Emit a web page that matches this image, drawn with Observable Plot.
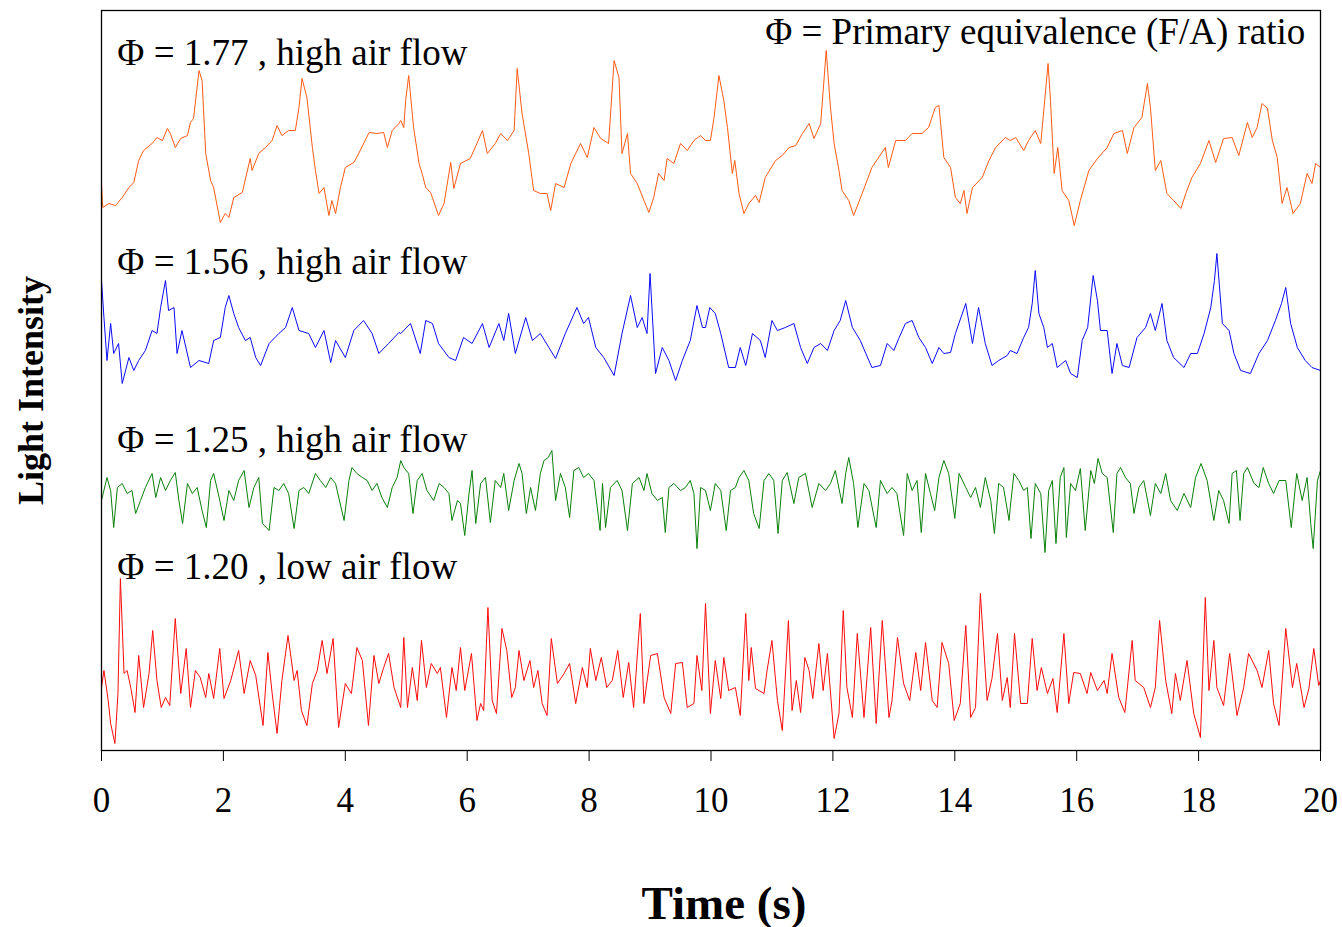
<!DOCTYPE html>
<html>
<head>
<meta charset="utf-8">
<script src="https://cdn.jsdelivr.net/npm/d3@7"></script>
<script src="https://cdn.jsdelivr.net/npm/@observablehq/plot@0.6"></script>
<style>
  html, body { margin: 0; padding: 0; background: #fff; }
</style>
</head>
<body>
<div id="chart"></div>
<script>
// Time (s), light intensity (arbitrary units)
const phi177 = [[0,567],[0.02,543],[0.12,547],[0.23,545],[0.34,553],[0.45,563],[0.53,568],[0.61,590],[0.69,600],[0.83,607],[0.91,613],[1.00,610],[1.08,622],[1.13,617],[1.21,603],[1.30,612],[1.41,615],[1.46,628],[1.51,632],[1.60,680],[1.65,670],[1.71,597],[1.79,570],[1.84,563],[1.95,528],[2.03,537],[2.09,533],[2.17,553],[2.31,558],[2.44,592],[2.47,580],[2.58,597],[2.69,603],[2.80,610],[2.88,625],[2.96,615],[3.07,620],[3.18,620],[3.24,643],[3.29,672],[3.37,653],[3.46,603],[3.51,580],[3.57,557],[3.65,563],[3.73,535],[3.78,550],[3.84,537],[3.92,563],[4.00,583],[4.14,588],[4.22,597],[4.39,618],[4.52,617],[4.63,618],[4.69,603],[4.77,620],[4.88,627],
[4.91,630],[4.96,623],[4.99,650],[5.04,675],[5.12,623],[5.21,587],[5.26,577],[5.32,563],[5.40,558],[5.53,535],[5.62,547],[5.73,588],[5.78,562],[5.89,587],[6.05,592],[6.16,607],[6.25,620],[6.33,597],[6.46,607],[6.55,617],[6.66,610],[6.77,620],[6.82,682],[6.90,637],[7.01,597],[7.09,560],[7.20,557],[7.31,557],[7.37,540],[7.45,567],[7.59,563],[7.70,587],[7.86,607],[7.97,593],[8.08,623],[8.19,612],[8.32,607],[8.41,690],[8.49,673],[8.54,597],[8.63,617],[8.68,577],[8.79,567],[8.90,550],[8.98,538],[9.06,553],[9.14,577],[9.23,570],[9.28,592],[9.39,587],[9.50,607],[9.61,600],[9.72,610],[9.83,615],
[9.91,610],[9.99,610],[10.05,633],[10.13,675],[10.21,650],[10.27,623],[10.35,577],[10.39,590],[10.46,557],[10.54,537],[10.62,547],[10.73,555],[10.79,548],[10.89,573],[11.06,590],[11.17,595],[11.28,603],[11.39,605],[11.50,617],[11.61,627],[11.69,612],[11.80,627],[11.89,700],[11.96,643],[12.02,607],[12.10,580],[12.15,560],[12.26,550],[12.34,535],[12.48,557],[12.64,583],[12.86,603],[12.91,583],[13.03,610],[13.19,610],[13.30,617],[13.46,617],[13.57,623],[13.68,643],[13.74,645],[13.82,593],[13.93,583],[14.01,553],[14.09,547],[14.15,560],[14.20,537],[14.29,563],[14.45,573],[14.56,590],[14.67,603],[14.83,613],
[14.91,610],[15.00,613],[15.13,600],[15.21,610],[15.32,620],[15.41,607],[15.46,640],[15.53,687],[15.57,650],[15.63,577],[15.69,603],[15.76,560],[15.87,550],[15.96,525],[16.06,550],[16.20,580],[16.34,592],[16.50,603],[16.61,617],[16.75,620],[16.83,597],[16.94,623],[17.07,633],[17.16,667],[17.21,643],[17.29,580],[17.38,590],[17.48,557],[17.59,550],[17.71,542],[17.79,557],[17.89,573],[18.03,587],[18.17,610],[18.28,588],[18.41,612],[18.55,613],[18.66,595],[18.80,628],[18.88,613],[18.96,623],[19.04,647],[19.13,642],[19.21,610],[19.29,593],[19.37,547],[19.45,563],[19.55,537],[19.67,547],[19.78,577],[19.86,567],[19.92,587],[20.00,583]];

const phi156 = [[0,470],[0.04,433],[0.09,390],[0.15,427],[0.20,397],[0.28,407],[0.34,367],[0.45,393],[0.53,380],[0.61,390],[0.72,400],[0.83,420],[0.91,417],[0.97,443],[1.05,470],[1.10,440],[1.19,443],[1.24,397],[1.32,420],[1.46,383],[1.60,390],[1.76,387],[1.84,410],[1.95,413],[2.03,443],[2.09,455],[2.17,437],[2.25,423],[2.36,410],[2.44,413],[2.53,393],[2.61,385],[2.75,407],[2.91,417],[3.02,423],[3.13,443],[3.24,420],[3.40,417],[3.51,403],[3.65,420],[3.76,388],[3.84,410],[4.00,393],[4.14,420],[4.30,430],[4.44,417],[4.55,397],[4.71,407],[4.88,418],
[4.91,417],[5.07,427],[5.23,397],[5.32,430],[5.43,427],[5.53,407],[5.70,393],[5.81,390],[5.94,413],[6.08,407],[6.25,427],[6.36,403],[6.52,427],[6.60,410],[6.68,437],[6.79,397],[6.96,433],[7.07,410],[7.20,417],[7.34,403],[7.45,392],[7.61,417],[7.80,443],[7.91,427],[7.99,433],[8.11,403],[8.24,393],[8.41,375],[8.54,417],[8.68,455],[8.79,423],[8.87,433],[8.95,417],[9.00,477],[9.09,377],[9.20,403],[9.31,390],[9.42,370],[9.53,390],[9.66,410],[9.77,445],[9.86,423],
[9.91,423],[9.98,443],[10.07,437],[10.16,417],[10.29,383],[10.40,383],[10.48,403],[10.57,385],[10.68,417],[10.81,410],[10.89,393],[11.00,430],[11.09,420],[11.22,423],[11.36,427],[11.47,403],[11.58,387],[11.69,403],[11.80,407],[11.91,400],[12.02,420],[12.12,430],[12.21,450],[12.32,423],[12.45,410],[12.54,397],[12.64,383],[12.78,385],[12.89,407],[13.00,400],[13.08,412],[13.19,427],[13.30,430],[13.41,413],[13.52,403],[13.63,387],[13.74,403],[13.82,397],[13.93,398],[14.01,417],[14.18,447],[14.29,407],[14.39,443],[14.50,407],[14.61,385],[14.72,390],[14.86,395],
[14.91,400],[15.02,397],[15.13,413],[15.21,423],[15.27,447],[15.32,480],[15.38,437],[15.46,423],[15.52,403],[15.60,407],[15.68,383],[15.82,390],[15.90,377],[16.01,373],[16.09,410],[16.18,423],[16.27,475],[16.34,450],[16.39,420],[16.50,420],[16.58,377],[16.66,407],[16.75,385],[16.86,383],[16.99,413],[17.13,423],[17.21,437],[17.29,420],[17.40,447],[17.48,410],[17.59,393],[17.76,383],[17.87,397],[17.98,397],[18.09,417],[18.20,443],[18.26,470],[18.30,497],[18.39,427],[18.50,420],[18.58,397],[18.69,380],[18.85,377],[18.99,397],[19.13,410],[19.26,430],[19.36,447],[19.43,463],[19.51,427],[19.62,403],[19.75,390],[19.86,383],[20.00,380]];

const phi125 = [[0,250],[0.09,273],[0.15,260],[0.20,223],[0.26,263],[0.34,267],[0.42,257],[0.50,260],[0.56,237],[0.64,250],[0.72,263],[0.83,277],[0.89,253],[0.97,273],[1.05,260],[1.13,270],[1.21,278],[1.27,250],[1.33,227],[1.41,267],[1.49,257],[1.57,263],[1.65,240],[1.72,223],[1.79,270],[1.84,277],[1.93,253],[2.01,230],[2.09,260],[2.17,250],[2.25,270],[2.34,280],[2.42,243],[2.50,263],[2.58,273],[2.64,227],[2.75,220],[2.83,263],[2.91,260],[2.99,267],[3.07,257],[3.16,222],[3.24,260],[3.32,263],[3.40,257],[3.51,277],[3.59,270],[3.68,263],[3.76,273],[3.84,267],[3.98,230],[4.06,270],[4.11,283],[4.19,277],[4.28,273],[4.36,270],[4.44,260],[4.52,267],[4.60,253],[4.69,243],[4.77,263],[4.85,273],
[4.91,290],[4.96,283],[5.04,277],[5.11,237],[5.18,270],[5.26,277],[5.34,260],[5.45,250],[5.54,267],[5.62,263],[5.70,257],[5.75,230],[5.84,250],[5.89,247],[5.96,215],[6.03,257],[6.08,280],[6.14,227],[6.22,267],[6.30,273],[6.38,228],[6.46,270],[6.55,263],[6.60,277],[6.68,240],[6.77,270],[6.85,287],[6.90,277],[6.97,237],[7.04,263],[7.12,240],[7.20,277],[7.26,290],[7.33,293],[7.39,300],[7.45,250],[7.53,277],[7.61,263],[7.68,233],[7.75,280],[7.83,283],[7.91,273],[7.99,277],[8.08,270],[8.18,220],[8.22,267],[8.27,223],[8.35,263],[8.46,270],[8.54,260],[8.63,220],[8.71,267],[8.82,273],[8.90,260],[8.95,277],[9.03,257],[9.12,250],[9.20,253],[9.25,218],[9.31,263],[9.39,267],[9.50,260],[9.58,263],[9.66,270],[9.72,257],[9.77,202],[9.83,263],
[9.91,260],[9.99,240],[10.07,267],[10.16,260],[10.25,220],[10.32,260],[10.40,263],[10.46,273],[10.54,280],[10.62,270],[10.70,237],[10.79,222],[10.87,270],[10.95,277],[11.03,270],[11.10,217],[11.17,270],[11.25,278],[11.36,247],[11.44,273],[11.55,277],[11.66,243],[11.77,267],[11.88,260],[11.96,267],[12.04,280],[12.15,247],[12.21,277],[12.26,293],[12.34,267],[12.41,223],[12.51,267],[12.59,260],[12.71,223],[12.78,270],[12.89,257],[12.97,263],[13.05,257],[13.16,215],[13.22,277],[13.30,260],[13.38,270],[13.45,218],[13.52,277],[13.60,257],[13.67,240],[13.74,273],[13.82,290],[13.90,277],[14.00,232],[14.07,277],[14.18,263],[14.26,253],[14.34,263],[14.42,243],[14.50,273],[14.59,250],[14.65,217],[14.72,267],[14.80,263],[14.89,230],
[14.91,243],[14.97,277],[15.05,270],[15.13,260],[15.19,263],[15.25,212],[15.32,267],[15.41,257],[15.48,198],[15.54,260],[15.60,270],[15.66,207],[15.73,273],[15.79,283],[15.83,213],[15.90,267],[15.98,260],[16.06,282],[16.14,220],[16.23,280],[16.29,267],[16.35,292],[16.42,277],[16.50,273],[16.60,218],[16.66,277],[16.72,283],[16.80,273],[16.88,267],[16.94,237],[17.02,263],[17.10,270],[17.21,235],[17.29,267],[17.38,257],[17.46,277],[17.54,250],[17.65,240],[17.76,257],[17.87,243],[17.95,273],[18.04,287],[18.14,270],[18.25,230],[18.33,260],[18.41,250],[18.50,227],[18.55,277],[18.62,280],[18.68,230],[18.74,277],[18.80,283],[18.91,267],[18.99,263],[19.06,283],[19.15,267],[19.23,257],[19.32,270],[19.43,270],[19.52,223],[19.61,277],[19.70,250],[19.78,273],[19.84,227],[19.88,202],[19.95,270],[20.00,280]];

const phi120 = [[0,63],[0.04,80],[0.11,50],[0.15,27],[0.22,7],[0.27,57],[0.31,172],[0.37,77],[0.42,80],[0.48,63],[0.55,38],[0.61,95],[0.69,43],[0.78,77],[0.84,120],[0.91,70],[0.98,43],[1.05,53],[1.12,45],[1.21,132],[1.30,57],[1.39,102],[1.46,43],[1.54,80],[1.62,73],[1.71,53],[1.76,77],[1.84,52],[1.94,102],[2.01,52],[2.12,70],[2.25,100],[2.34,57],[2.44,90],[2.53,75],[2.65,25],[2.73,98],[2.80,57],[2.88,17],[2.96,70],[3.06,115],[3.16,70],[3.21,80],[3.28,40],[3.37,25],[3.46,67],[3.54,80],[3.62,110],[3.70,77],[3.80,112],[3.89,23],[4.00,67],[4.10,57],[4.19,103],[4.28,90],[4.38,25],[4.47,95],[4.55,67],[4.63,83],[4.71,97],[4.80,63],
[4.91,43],[4.96,113],[5.02,43],[5.10,83],[5.18,50],[5.25,110],[5.33,63],[5.41,87],[5.51,77],[5.56,83],[5.66,33],[5.75,83],[5.82,60],[5.89,103],[5.96,60],[6.07,97],[6.16,30],[6.22,47],[6.27,40],[6.34,143],[6.41,50],[6.48,37],[6.57,122],[6.65,100],[6.73,53],[6.79,63],[6.85,100],[6.93,70],[7.03,90],[7.09,63],[7.16,80],[7.23,47],[7.31,35],[7.38,112],[7.48,67],[7.59,77],[7.68,87],[7.78,47],[7.89,83],[7.97,63],[8.02,102],[8.11,70],[8.20,93],[8.29,63],[8.38,70],[8.47,100],[8.56,53],[8.65,88],[8.73,43],[8.84,137],[8.90,47],[9.01,95],[9.12,97],[9.23,53],[9.34,37],[9.42,87],[9.53,88],[9.61,43],[9.72,47],[9.77,95],[9.85,60],
[9.91,147],[9.99,37],[10.07,90],[10.16,52],[10.21,93],[10.29,60],[10.40,63],[10.48,35],[10.57,137],[10.62,70],[10.66,103],[10.73,62],[10.87,57],[10.92,80],[11.00,110],[11.09,50],[11.17,20],[11.27,130],[11.33,40],[11.40,70],[11.47,38],[11.54,93],[11.61,80],[11.67,52],[11.77,107],[11.84,60],[11.91,97],[12.02,12],[12.10,37],[12.17,140],[12.23,63],[12.32,33],[12.40,117],[12.51,33],[12.62,123],[12.71,27],[12.81,130],[12.92,33],[12.97,50],[13.06,113],[13.16,67],[13.26,50],[13.36,98],[13.44,60],[13.52,108],[13.63,50],[13.71,43],[13.79,108],[13.90,87],[13.99,30],[14.09,47],[14.18,125],[14.26,33],[14.34,43],[14.42,157],[14.53,50],[14.61,72],[14.70,117],[14.78,50],[14.86,73],
[14.91,43],[14.98,117],[15.08,47],[15.19,47],[15.27,112],[15.35,60],[15.42,83],[15.52,57],[15.61,72],[15.68,38],[15.79,117],[15.87,47],[15.95,78],[16.06,77],[16.17,57],[16.23,78],[16.34,60],[16.45,70],[16.50,57],[16.58,97],[16.69,53],[16.79,38],[16.91,110],[16.96,70],[17.10,63],[17.21,43],[17.29,63],[17.36,130],[17.46,70],[17.56,37],[17.62,77],[17.70,50],[17.81,90],[17.92,37],[18.03,13],[18.11,153],[18.17,60],[18.25,110],[18.30,63],[18.41,45],[18.51,97],[18.63,35],[18.74,63],[18.82,97],[18.96,80],[19.04,63],[19.15,100],[19.23,47],[19.32,25],[19.43,122],[19.54,63],[19.61,87],[19.73,43],[19.81,62],[19.89,102],[19.97,65],[20.00,70]];

const seriesColors = ["#ff5a14", "#0a0aff", "#0a800a", "#ff0a0a"];
const seriesLabels = ["Φ = 1.77 , high air flow", "Φ = 1.56 , high air flow", "Φ = 1.25 , high air flow", "Φ = 1.20 , low air flow"];
const legendNote = "Φ = Primary equivalence (F/A) ratio";
const xTicks = [0, 2, 4, 6, 8, 10, 12, 14, 16, 18, 20];
const xTitle = "Time (s)";
const yTitle = "Light Intensity";

const allSeries = [phi177, phi156, phi125, phi120];
const labelY = [697, 488, 310, 183];

const chart = Plot.plot({
  width: 1342,
  height: 927,
  marginLeft: 101,
  marginRight: 22,
  marginTop: 10,
  marginBottom: 177,
  style: { fontFamily: "'Liberation Serif', 'Times New Roman', serif", fontSize: "34px", background: "white", overflow: "visible" },
  x: { domain: [0, 20] },
  y: { domain: [0, 740], axis: null },
  marks: [
    ...allSeries.map((s, i) => Plot.line(s, { x: d => d[0], y: d => d[1], stroke: seriesColors[i], strokeWidth: 1 })),
    Plot.frame({ stroke: "black", strokeWidth: 1.3 }),
    Plot.axisX({ ticks: xTicks, tickSize: 11, tickPadding: 26, fontSize: 35, label: null, stroke: "black" }),
    Plot.text(seriesLabels, { x: 0.26, y: (d, i) => labelY[i], text: d => d, textAnchor: "start", lineAnchor: "middle", fontSize: 37, fill: "black" }),
    Plot.text([legendNote], { x: 19.75, y: 718, text: d => d, textAnchor: "end", lineAnchor: "middle", fontSize: 37, fill: "black" }),
    Plot.text([xTitle], { frameAnchor: "bottom", dx: 13, dy: 153, text: d => d, lineAnchor: "middle", fontSize: 47, fontWeight: "bold", fill: "black" }),
    Plot.text([yTitle], { frameAnchor: "left", dx: -70, dy: 10, rotate: -90, textAnchor: "middle", text: d => d, lineAnchor: "middle", fontSize: 36, fontWeight: "bold", fill: "black" })
  ]
});
document.getElementById("chart").appendChild(chart);
</script>
</body>
</html>
